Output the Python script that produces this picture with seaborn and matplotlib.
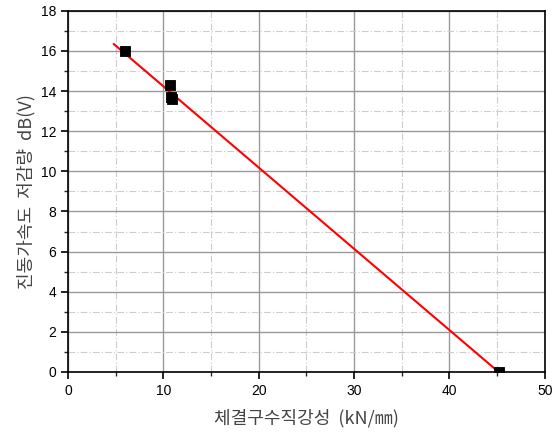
import numpy as np
import pandas as pd
import matplotlib
matplotlib.use("Agg")
import matplotlib.pyplot as plt
import seaborn as sns
from matplotlib.ticker import MultipleLocator

stiffness = [6.0, 10.7, 10.8, 10.9, 45.2]
reduction = [16.0, 14.3, 13.7, 13.6, 0.0]
fit_x_range = [4.8, 45.0]

sns.set_theme(style="white")
plt.rcParams['font.family'] = ['Liberation Sans', 'Noto Sans CJK KR', 'DejaVu Sans']

df = pd.DataFrame({"x": stiffness, "y": reduction})

fig = plt.figure(figsize=(5.52, 4.34), dpi=100)
ax = fig.add_axes([0.123, 0.143, 0.864, 0.832])

coef = np.polyfit(df["x"], df["y"], 1)
fx = np.array(fit_x_range)
fit_df = pd.DataFrame({"x": fx, "y": np.polyval(coef, fx)})
sns.lineplot(data=fit_df, x="x", y="y", color="red", lw=1.5, ax=ax, zorder=3)
sns.scatterplot(data=df, x="x", y="y", marker="s", s=60, color="black",
                edgecolor="black", ax=ax, zorder=4)

ax.set_xlim(0, 50)
ax.set_ylim(0, 18)
ax.xaxis.set_major_locator(MultipleLocator(10))
ax.xaxis.set_minor_locator(MultipleLocator(5))
ax.yaxis.set_major_locator(MultipleLocator(2))
ax.yaxis.set_minor_locator(MultipleLocator(1))
ax.grid(which="major", color="#999999", lw=1.0, ls="-")
ax.grid(which="minor", color="#cccccc", lw=0.8, ls=(0, (6, 2, 1, 2)))
ax.set_axisbelow(True)
for s in ax.spines.values():
    s.set_color("black")
    s.set_linewidth(1.2)
ax.tick_params(which="major", direction="out", length=5, width=1.2, colors="black",
               labelsize=10, left=True, bottom=True)
ax.tick_params(which="minor", direction="out", length=3, width=1.0, left=True, bottom=True)

ax.set_xlabel("체결구수직강성  (kN/㎜)", fontsize=13, color="#444444", labelpad=8,
              family=['Noto Sans CJK KR', 'DejaVu Sans'])
ax.set_ylabel("진동가속도  저감량  dB(V)", fontsize=13, color="#444444", labelpad=4,
              family=['Noto Sans CJK KR', 'DejaVu Sans'])

fig.savefig("out.png", dpi=100)
